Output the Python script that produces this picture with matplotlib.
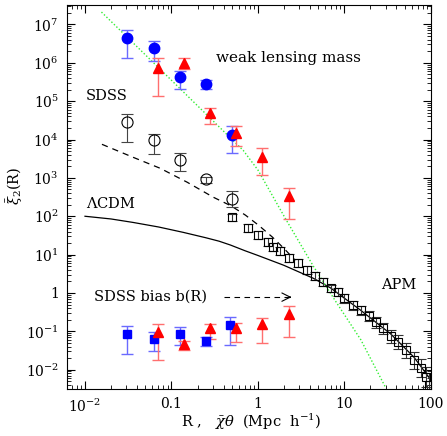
import numpy as np
import matplotlib
matplotlib.use('Agg')
import matplotlib.pyplot as plt
from matplotlib.ticker import FixedLocator, LogLocator, NullFormatter

plt.rcParams['font.family'] = ['DejaVu Serif']
plt.rcParams['mathtext.fontset'] = 'dejavuserif'

# weak lensing mass, blue circles
wl_r = [0.031, 0.063, 0.126, 0.25, 0.5]
wl_xi = [4.3e6, 2.4e6, 4.3e5, 2.8e5, 1.3e4]
wl_hi = [7.2e6, 3.6e6, 6.2e5, 3.5e5, 2.2e4]
wl_lo = [1.35e6, 1.1e6, 2.1e5, 2.1e5, 4.4e3]

# weak lensing mass, red triangles
wl2_r = [0.069, 0.139, 0.28, 0.56, 1.1, 2.26]
wl2_xi = [7.2e5, 9.7e5, 5.0e4, 1.5e4, 3.6e3, 330]
wl2_hi = [1.3e6, 1.3e6, 6.7e4, 2.2e4, 5.9e3, 540]
wl2_lo = [1.4e5, 6.8e5, 2.5e4, 6.6e3, 1.2e3, 83]

# SDSS galaxies, open circles
sdss_r = [0.031, 0.063, 0.126, 0.25, 0.5]
sdss_xi = [2.9e4, 9.6e3, 3.0e3, 920, 280]
sdss_hi = [4.7e4, 1.4e4, 4.4e3, 1.05e3, 450]
sdss_lo = [8.5e3, 4.3e3, 1.5e3, 720, 170]

# SDSS bias b(R)
bias_r = [0.031, 0.063, 0.126, 0.25, 0.47]
bias = [0.085, 0.063, 0.085, 0.056, 0.145]
bias_hi = [0.136, 0.096, 0.13, 0.07, 0.23]
bias_lo = [0.026, 0.030, 0.044, 0.041, 0.044]

bias2_r = [0.069, 0.139, 0.28, 0.56, 1.1, 2.26]
bias2 = [0.096, 0.047, 0.12, 0.12, 0.155, 0.28]
bias2_hi = [0.16, 0.056, 0.16, 0.17, 0.22, 0.46]
bias2_lo = [0.018, 0.032, 0.063, 0.052, 0.049, 0.07]

# APM, open squares (error in dex)
apm_r = [0.506, 0.776, 1.01, 1.29, 1.51, 1.82, 2.26, 2.87, 3.65, 4.52, 5.60, 6.93,
         8.36, 9.79, 12.5, 15.4, 19.1, 23.0, 27.7, 34.4, 41.4, 51.3, 63.5, 76.6,
         87.5, 94.8]
apm_xi = [93, 49, 32, 21, 15.5, 12.3, 8.05, 5.97, 3.93, 2.75, 1.91, 1.32,
          1.05, 0.72, 0.48, 0.355, 0.25, 0.174, 0.120, 0.074, 0.052, 0.032, 0.0178,
          0.011, 0.0065, 0.004]
apm_dex = [0.1, 0.1, 0.1, 0.1, 0.1, 0.1, 0.1, 0.1, 0.1, 0.1, 0.1, 0.1,
           0.11, 0.11, 0.12, 0.12, 0.13, 0.14, 0.15, 0.16, 0.18, 0.2, 0.22, 0.24,
           0.27, 0.3]

# model curves
lcdm_r = [0.01, 0.02, 0.036, 0.071, 0.137, 0.25, 0.355, 0.48, 0.71, 1.0, 1.98, 4.4,
          6.93, 15.4, 34.4, 63.5, 100]
lcdm_xi = [100, 85, 69, 52.5, 38, 27.5, 22.4, 17.8, 12.6, 9.5, 5.3, 2.4,
           1.35, 0.355, 0.085, 0.0214, 0.0054]

nl_r = [0.0157, 0.036, 0.074, 0.152, 0.305, 0.49, 0.716, 1.01, 1.46, 1.98, 2.7]
nl_xi = [7500, 3440, 1780, 770, 313, 186, 107, 59, 29, 14.8, 7.1]

lens_r = [0.0155, 0.1, 0.676, 1.0, 2.09, 4.37, 7.94, 15.5, 30.2]
lens_xi = [2.1e7, 3.5e5, 5.2e3, 1.6e3, 85, 5.0, 0.6, 0.06, 0.0033]

xticks = [0.01, 0.1, 1, 10, 100]
xticklabels = ['$10^{-2}$', '0.1', '1', '10', '100']
yticks = [1e-2, 1e-1, 1, 1e1, 1e2, 1e3, 1e4, 1e5, 1e6, 1e7]
yticklabels = ['$10^{-2}$', '$10^{-1}$', '1', '$10^{1}$', '$10^{2}$', '$10^{3}$',
               '$10^{4}$', '$10^{5}$', '$10^{6}$', '$10^{7}$']


def err(y, lo, hi):
    y = np.array(y)
    return [y - np.array(lo), np.array(hi) - y]


fig = plt.figure(figsize=(4.47, 4.36), dpi=100)
ax = fig.add_axes([0.150, 0.108, 0.814, 0.880])
ax.set_xscale('log')
ax.set_yscale('log')

# lines
ax.plot(lcdm_r, lcdm_xi, color='black', lw=0.9)
ax.plot(nl_r, nl_xi, color='black', lw=0.9, linestyle=(0, (5, 4)))
ax.plot(lens_r, lens_xi, color='#33ee33', lw=1.0, linestyle=(0, (1, 1.5)))

# APM
apm_y = np.array(apm_xi)
d = np.array(apm_dex)
ax.errorbar(apm_r, apm_xi, yerr=[apm_y * (1 - 10 ** -d), apm_y * (10 ** d - 1)],
            fmt='s', ms=6, mfc='none', mec='black', mew=0.8,
            ecolor='#333333', elinewidth=0.8, capsize=3.5, capthick=0.8)

# SDSS
ax.errorbar(sdss_r, sdss_xi, yerr=err(sdss_xi, sdss_lo, sdss_hi), fmt='o', ms=8,
            mfc='none', mec='black', mew=0.8, ecolor='#444444', elinewidth=0.8,
            capsize=4, capthick=0.8)

# blue
ax.errorbar(wl_r, wl_xi, yerr=err(wl_xi, wl_lo, wl_hi), fmt='o', ms=7.5,
            color='#0000ff', ecolor='#6a6aff', elinewidth=1, capsize=4.5, capthick=1)
ax.errorbar(bias_r, bias, yerr=err(bias, bias_lo, bias_hi), fmt='s', ms=5.5,
            color='#0000ff', ecolor='#6a6aff', elinewidth=1, capsize=4.5, capthick=1)

# red
ax.errorbar(wl2_r, wl2_xi, yerr=err(wl2_xi, wl2_lo, wl2_hi), fmt='^', ms=7,
            color='#ff0000', ecolor='#ff6f6f', elinewidth=1, capsize=4.5, capthick=1)
ax.errorbar(bias2_r, bias2, yerr=err(bias2, bias2_lo, bias2_hi), fmt='^', ms=7,
            color='#ff0000', ecolor='#ff6f6f', elinewidth=1, capsize=4.5, capthick=1)

# arrow for bias
ax.plot([0.40, 2.40], [0.78, 0.78], color='black', lw=0.8, linestyle=(0, (5, 4)))
ax.annotate('', xy=(2.44, 0.78), xytext=(2.3, 0.78),
            arrowprops=dict(arrowstyle='->, head_length=0.6, head_width=0.3',
                            lw=0.8, color='black'))

# labels inside
fs = 10.5
ax.text(0.33, 1.3e6, 'weak lensing mass', fontsize=11, va='center')
ax.text(0.0103, 1.33e5, 'SDSS', fontsize=fs, va='center')
ax.text(0.0103, 218, r'$\Lambda$CDM', fontsize=fs, va='center')
ax.text(0.0127, 0.78, 'SDSS bias b(R)', fontsize=fs, va='center')
ax.text(26.3, 1.6, 'APM', fontsize=fs, va='center')

ax.set_xlim(0.0062, 100)
ax.set_ylim(10 ** -2.5, 10 ** 7.5)

ax.xaxis.set_major_locator(FixedLocator(xticks))
ax.set_xticklabels(xticklabels)
ax.yaxis.set_major_locator(FixedLocator(yticks))
ax.set_yticklabels(yticklabels)
ax.xaxis.set_minor_locator(LogLocator(base=10, subs=np.arange(2, 10), numticks=20))
ax.yaxis.set_minor_locator(LogLocator(base=10, subs=np.arange(2, 10), numticks=20))
ax.xaxis.set_minor_formatter(NullFormatter())
ax.yaxis.set_minor_formatter(NullFormatter())
ax.tick_params(which='both', direction='in', top=True, right=True, labelsize=10)
ax.tick_params(which='major', length=6, width=0.8, pad=6)
ax.tick_params(which='minor', length=3, width=0.6)
for s in ax.spines.values():
    s.set_linewidth(0.8)

ax.set_xlabel(r'R ,   $\bar{\chi}\theta$  (Mpc  h$^{-1}$)', fontsize=fs)
ax.xaxis.set_label_coords(0.505, -0.06)
ax.set_ylabel(r'$\bar{\xi}_2$(R)', fontsize=fs)
ax.yaxis.set_label_coords(-0.115, 0.53)

fig.savefig('out.png', dpi=100)
